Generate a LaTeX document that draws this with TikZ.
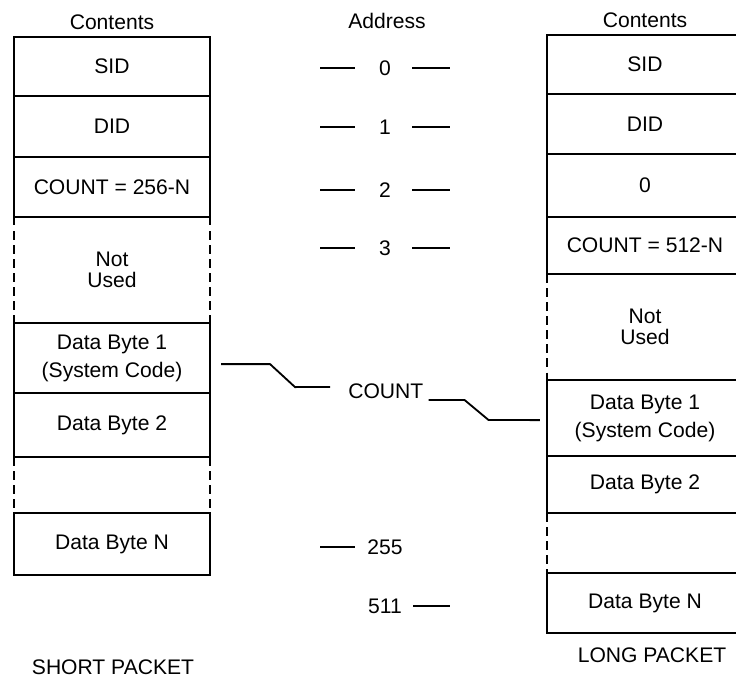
\documentclass[tikz,border=0pt]{standalone}
\usepackage{fontspec}
\setmainfont{Liberation Sans}
\usetikzlibrary{positioning}
\tikzset{
  txt/.style={font=\fontsize{15}{18}\selectfont, inner sep=0pt},
  cell/.style={txt, draw, line width=1.4pt, outer sep=0pt, minimum width=4.9cm, align=center},
  gapcell/.style={txt, outer sep=0pt, minimum width=4.9cm, align=center},
  gapline/.style={line width=1.4pt, dash pattern=on 6pt off 4pt},
  tick/.style={line width=1.3pt},
  link/.style={line width=1.3pt}
}
\begin{document}
\begin{tikzpicture}[x=0.025cm, y=-0.025cm]
    \useasboundingbox (0,0) rectangle (736,678);
    \node[txt] (shead) at (112,22) {Contents};
    \node[txt] (ahead) at (387,21) {Address};
    \node[txt] (lhead) at (645,20) {Contents};
    \node[cell, minimum height=1.475cm, anchor=north] (ssid) at (112,37) {SID};
    \node[cell, minimum height=1.525cm, below=0pt of ssid] (sdid) {DID};
    \node[cell, minimum height=1.5cm, below=0pt of sdid] (scount) {COUNT = 256-N};
    \node[gapcell, minimum height=2.65cm, below=0pt of scount] (sfree) {Not\\[-3pt]Used};
    \node[cell, minimum height=1.75cm, below=0pt of sfree] (sbyte1) {Data Byte 1\\[2pt](System Code)};
    \node[cell, minimum height=1.6cm, below=0pt of sbyte1] (sbyte2) {Data Byte 2};
    \node[gapcell, minimum height=1.4cm, below=0pt of sbyte2] (sgap) {};
    \node[cell, minimum height=1.55cm, below=0pt of sgap] (sbyteN) {Data Byte N};
    \node[cell, minimum height=1.475cm, anchor=north] (lsid) at (645,35) {SID};
    \node[cell, minimum height=1.5cm, below=0pt of lsid] (ldid) {DID};
    \node[cell, minimum height=1.575cm, below=0pt of ldid] (lzero) {0};
    \node[cell, minimum height=1.425cm, below=0pt of lzero] (lcount) {COUNT = 512-N};
    \node[gapcell, minimum height=2.65cm, below=0pt of lcount] (lfree) {Not\\[-3pt]Used};
    \node[cell, minimum height=1.9cm, below=0pt of lfree] (lbyte1) {Data Byte 1\\[2pt](System Code)};
    \node[cell, minimum height=1.425cm, below=0pt of lbyte1] (lbyte2) {Data Byte 2};
    \node[gapcell, minimum height=1.5cm, below=0pt of lbyte2] (lgap) {};
    \node[cell, minimum height=1.5cm, below=0pt of lgap] (lbyteN) {Data Byte N};
    \foreach \g in {sfree,sgap,lfree,lgap}
        \draw[gapline] (\g.north west) -- (\g.south west) (\g.north east) -- (\g.south east);
    \foreach \n/\y in {0/68,1/127,2/190,3/248}{
        \node[txt] (adr\n) at (385,\y) {\n};
        \draw[tick] (adr\n) ++(-65,0) -- ++(35,0);
        \draw[tick] (adr\n) ++(27,0) -- ++(38,0);
    }
    \node[txt] (adr255) at (385,547) {255};
    \draw[tick] (adr255) ++(-65,0) -- ++(35,0);
    \node[txt] (adr511) at (385,606) {511};
    \draw[tick] (adr511) ++(28,0) -- ++(37,0);
    \node[txt, anchor=base west] (cnt) at (348,398) {COUNT};
    \draw[link] ([shift={(11,6)}]sbyte1.east) -- ++(49,0) -- ++(25,23) -- ([shift={(-18,-11)}]cnt.base west);
    \draw[link] ([shift={(5,2)}]cnt.base east) -- ++(36,0) -- ++(24,20) -- ([shift={(-7,2)}]lbyte1.west);
    \node[txt] (sname) at (113,667) {SHORT PACKET};
    \node[txt] (lname) at (652,655) {LONG PACKET};
\end{tikzpicture}
\end{document}
